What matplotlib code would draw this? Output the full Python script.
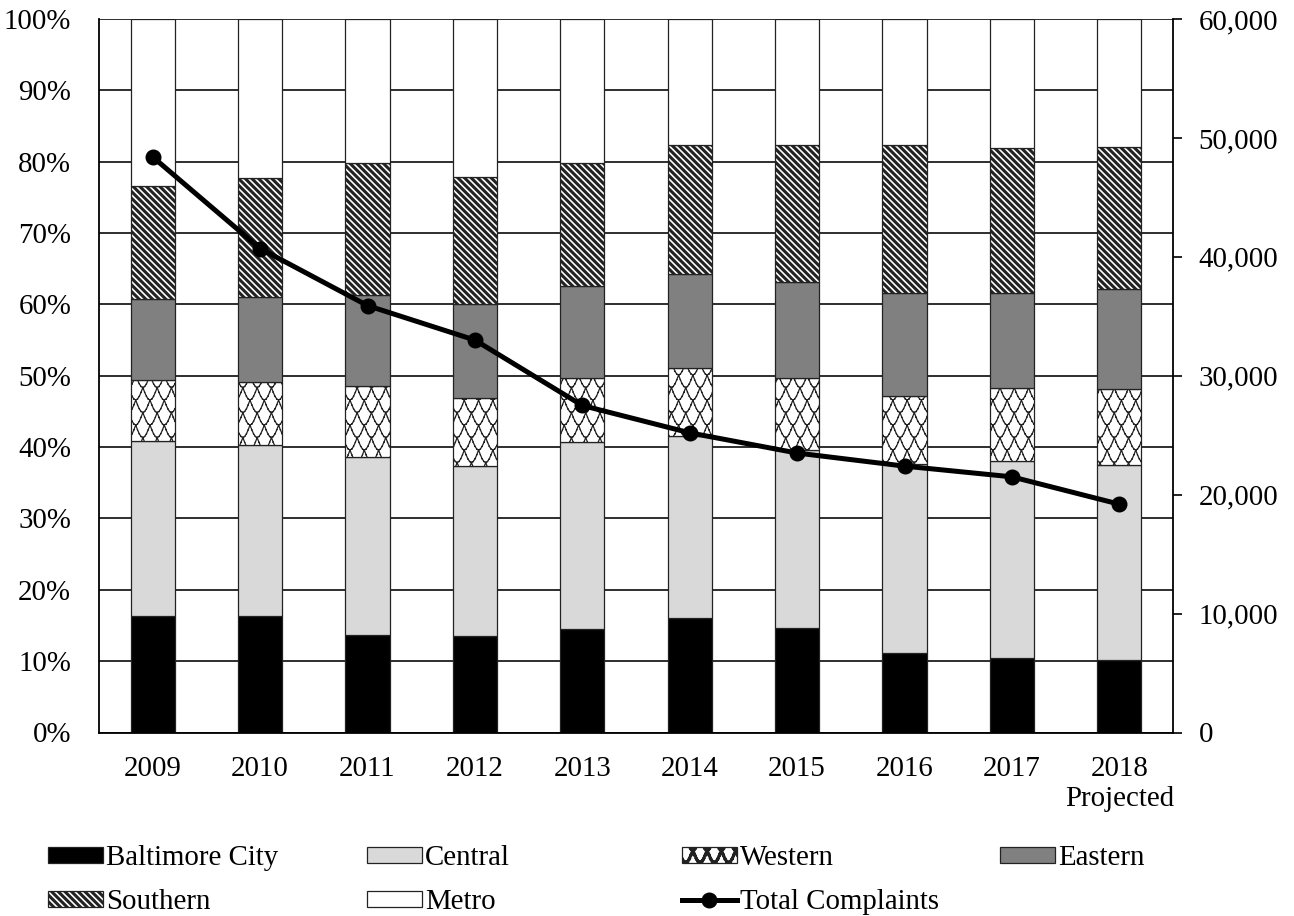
import warnings
import numpy as np
import matplotlib
matplotlib.use("Agg")
import matplotlib.pyplot as plt
import matplotlib.hatch as mhatch
from matplotlib.path import Path
from matplotlib.ticker import FuncFormatter, MultipleLocator

warnings.filterwarnings("ignore", category=matplotlib.MatplotlibDeprecationWarning)

# ---------------------------------------------------------------- data
years = ["2009", "2010", "2011", "2012", "2013", "2014", "2015", "2016", "2017",
         "2018\nProjected"]

baltimore_city = [16.3, 16.3, 13.7, 13.5, 14.5, 16.0, 14.6, 11.1, 10.4, 10.1]
central = [24.5, 24.0, 24.9, 23.8, 26.2, 25.6, 25.0, 26.6, 27.7, 27.4]
western = [8.6, 8.8, 10.0, 9.6, 9.0, 9.5, 10.1, 9.4, 10.2, 10.6]
eastern = [11.3, 11.9, 12.7, 13.1, 12.9, 13.1, 13.4, 14.5, 13.3, 14.0]
southern = [15.9, 16.7, 18.5, 17.8, 17.2, 18.2, 19.2, 20.8, 20.3, 19.9]
metro = [23.4, 22.3, 20.2, 22.2, 20.2, 17.6, 17.7, 17.6, 18.1, 18.0]

total_complaints = [48400, 40700, 35900, 33000, 27500, 25200, 23500, 22400, 21500, 19200]


# ---------------------------------------------------------------- fish-scale hatch ("~")
class ScaleHatch(mhatch.HatchPatternBase):
    """Rows of arcs offset by half a period, giving a scale/wave texture.

    Every arc is emitted as separate two-point segments so the renderer
    never fills the enclosed area.
    """

    def __init__(self, hatch, density):
        self.reps = hatch.count("~")
        self.rows = 8 * self.reps
        self.cols = 7 * self.reps
        self.per_row = self.cols * 8 + 1
        self.num_vertices = self.rows * (self.per_row - 1) * 2 if self.reps else 0

    def set_vertices_and_codes(self, vertices, codes):
        x = np.linspace(0.0, 1.0, self.per_row)
        nseg = self.per_row - 1
        for j in range(self.rows):
            shift = 0.5 * (j % 2)
            y = (j + 1) / self.rows - np.abs(np.sin(np.pi * (x * self.cols + shift))) / self.rows
            base = j * nseg * 2
            sl0 = slice(base, base + 2 * nseg, 2)
            sl1 = slice(base + 1, base + 2 * nseg, 2)
            vertices[sl0, 0] = x[:-1]
            vertices[sl0, 1] = y[:-1]
            vertices[sl1, 0] = x[1:]
            vertices[sl1, 1] = y[1:]
            codes[sl0] = Path.MOVETO
            codes[sl1] = Path.LINETO


mhatch._hatch_types.append(ScaleHatch)

# ---------------------------------------------------------------- style
FS = 20.8
plt.rcParams["font.family"] = ["Liberation Serif", "DejaVu Serif"]
plt.rcParams["font.size"] = FS
plt.rcParams["hatch.color"] = "black"

fig = plt.figure(figsize=(12.94, 9.16), dpi=100)
ax = fig.add_axes([99 / 1294, 1 - 732.5 / 916, (1173 - 99) / 1294, (732.5 - 19) / 916])

x = np.arange(len(years))
bar_w = 0.41

series = [
    ("Baltimore City", baltimore_city, dict(color="black", hatch=None, hlw=1.0)),
    ("Central", central, dict(color="#d9d9d9", hatch=None, hlw=1.0)),
    ("Western", western, dict(color="white", hatch="~", hlw=0.9)),
    ("Eastern", eastern, dict(color="#808080", hatch=None, hlw=1.0)),
    ("Southern", southern, dict(color="white", hatch="\\\\\\\\\\", hlw=2.2)),
    ("Metro", metro, dict(color="white", hatch=None, hlw=1.0)),
]

bottom = np.zeros(len(years))
bar_handles = {}
for name, vals, st in series:
    vals = np.asarray(vals) / 100.0
    plt.rcParams["hatch.linewidth"] = st["hlw"]
    kw = dict(bottom=bottom, color=st["color"], edgecolor="#222222",
              linewidth=0.9, label=name, zorder=2)
    if st["hatch"] is not None:
        kw["hatch"] = st["hatch"]
    cont = ax.bar(x, vals, bar_w, **kw)
    for p in cont.patches:
        if hasattr(p, "set_hatch_linewidth"):
            p.set_hatch_linewidth(st["hlw"])
    bar_handles[name] = cont
    bottom += vals
plt.rcParams["hatch.linewidth"] = 2.2

ax.set_xlim(-0.5, len(years) - 0.5)
ax.set_ylim(0, 1)
ax.yaxis.set_major_locator(MultipleLocator(0.1))
ax.yaxis.set_major_formatter(FuncFormatter(lambda v, _: f"{v * 100:.0f}%"))
ax.set_xticks(x)
ax.set_xticklabels(years)
ax.set_axisbelow(True)
ax.yaxis.grid(True, color="black", linewidth=1.15, zorder=0)
ax.tick_params(axis="y", length=0, pad=20)
ax.tick_params(axis="x", length=0, pad=17)
for side in ("top", "right"):
    ax.spines[side].set_visible(False)
for side in ("left", "bottom"):
    ax.spines[side].set_linewidth(1.3)
    ax.spines[side].set_color("black")

# total complaints on the secondary axis
ax2 = ax.twinx()
(line,) = ax2.plot(x, total_complaints, color="black", linewidth=3.6, marker="o",
                   markersize=10.5, label="Total Complaints", zorder=5)
ax2.set_ylim(0, 60000)
ax2.yaxis.set_major_locator(MultipleLocator(10000))
ax2.yaxis.set_major_formatter(FuncFormatter(lambda v, _: f"{v:,.0f}"))
ax2.tick_params(axis="y", direction="out", length=6.5, width=1.2, pad=12)
for side in ("top", "left", "bottom"):
    ax2.spines[side].set_visible(False)
ax2.spines["right"].set_linewidth(1.3)

# ---------------------------------------------------------------- legend columns
legend_kw = dict(loc="upper left", frameon=False, borderpad=0, borderaxespad=0,
                 handlelength=1.9, handleheight=0.48, handletextpad=0.1,
                 labelspacing=0.64, fontsize=FS)
columns = [
    (48, [bar_handles["Baltimore City"], bar_handles["Southern"]],
     ["Baltimore City", "Southern"]),
    (367, [bar_handles["Central"], bar_handles["Metro"]], ["Central", "Metro"]),
    (682, [bar_handles["Western"], line], ["Western", "Total Complaints"]),
    (1000, [bar_handles["Eastern"]], ["Eastern"]),
]
for px, hs, ls in columns:
    fig.legend(hs, ls, bbox_to_anchor=(px / 1294, 1 - 845 / 916), **legend_kw)

fig.savefig("out.png", dpi=100)
